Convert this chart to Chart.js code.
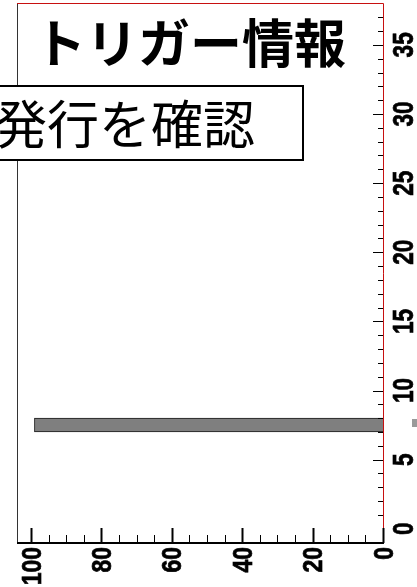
<!DOCTYPE html>
<html lang="ja">
<head>
<meta charset="UTF-8">
<script src="https://cdn.jsdelivr.net/npm/chart.js"></script>
<title>トリガー情報</title>
<style>
  html, body { margin: 0; padding: 0; background: #fff; }
  #wrap { width: 417px; height: 587px; position: relative; }
</style>
</head>
<body>
<div id="wrap"><canvas id="myChart"></canvas></div>
<script>
// histogram contents: one count per unit-wide bin, bins 0..36
const binCounts = [0, 0, 0, 0, 0, 0, 0, 99, 0, 0,
                   0, 0, 0, 0, 0, 0, 0, 0, 0, 0,
                   0, 0, 0, 0, 0, 0, 0, 0, 0, 0,
                   0, 0, 0, 0, 0, 0, 0];
const binTickLabels = [0, 5, 10, 15, 20, 25, 30, 35];
const countTickLabels = [0, 20, 40, 60, 80, 100];
const titleText = 'トリガー情報';
const noteText = '発行を確認';

const binMax = binCounts.length;
const countMax = Math.max(...binCounts) * 1.05;

var points = [];
for (let i = 0; i < binCounts.length; i++) {
    points.push({ x: binCounts[i], y: i + 0.5 });
}

// draws one label turned to read upwards; sx squeezes it along the text
function upText(ctx, text, x, y, align, sx, off) {
    ctx.save();
    ctx.translate(x, y);
    ctx.rotate(-Math.PI / 2);
    ctx.scale(sx, 1);
    ctx.textAlign = align;
    ctx.fillText(text, 0, off);
    ctx.strokeText(text, 0, off);
    ctx.restore();
}

// frame, inward ticks, rotated labels and the text boxes
const decor = {
    id: 'decor',
    afterDraw(chart) {
        const ctx = chart.ctx;
        const a = chart.chartArea;
        const xs = chart.scales.x;
        const ys = chart.scales.y;
        ctx.save();

        // frame
        ctx.lineWidth = 1;
        ctx.strokeStyle = '#333';
        ctx.beginPath();
        ctx.moveTo(a.left + 0.5, a.top);
        ctx.lineTo(a.left + 0.5, a.bottom);
        ctx.stroke();
        ctx.strokeStyle = '#c81010';
        ctx.beginPath();
        ctx.moveTo(a.left, a.top + 0.5);
        ctx.lineTo(a.right + 0.5, a.top + 0.5);
        ctx.lineTo(a.right + 0.5, a.bottom);
        ctx.stroke();
        ctx.strokeStyle = '#000';
        ctx.lineWidth = 2;
        ctx.beginPath();
        ctx.moveTo(a.left, a.bottom);
        ctx.lineTo(a.right + 1, a.bottom);
        ctx.stroke();

        // ticks on the bin axis (right side, pointing in)
        ctx.strokeStyle = '#000';
        for (let v = 1; v <= binMax; v++) {
            const y = Math.round(ys.getPixelForValue(v)) + 0.5;
            const len = v % 5 === 0 ? 10 : 5;
            ctx.lineWidth = 1;
            ctx.beginPath();
            ctx.moveTo(a.right, y);
            ctx.lineTo(a.right - len, y);
            ctx.stroke();
        }
        // ticks on the count axis (bottom, pointing up)
        for (let v = 0; v <= countMax; v += 5) {
            const x = Math.round(xs.getPixelForValue(v)) + 0.5;
            const major = v % 20 === 0;
            ctx.lineWidth = major ? 2 : 1;
            ctx.beginPath();
            ctx.moveTo(x, a.bottom);
            ctx.lineTo(x, a.bottom - (major ? 15 : 8));
            ctx.stroke();
        }

        // tick labels
        ctx.fillStyle = '#000';
        ctx.strokeStyle = '#000';
        ctx.lineWidth = 0.7;
        ctx.font = 'bold 30px "Liberation Sans", Arial, sans-serif';
        ctx.textBaseline = 'alphabetic';
        binTickLabels.forEach(function (v) {
            upText(ctx, String(v), a.right + 19, ys.getPixelForValue(v), 'center', 0.75, 10.7);
        });
        ctx.font = 'bold 27px "Liberation Sans", Arial, sans-serif';
        countTickLabels.forEach(function (v) {
            upText(ctx, String(v), xs.getPixelForValue(v), a.bottom + 4, 'right', 0.85, 9.7);
        });

        // small marker at the right border
        ctx.fillStyle = '#9a9a9a';
        ctx.fillRect(412, 419, 5, 8);

        // title
        ctx.fillStyle = '#000';
        ctx.font = 'bold 52px "Noto Sans CJK JP", sans-serif';
        ctx.textAlign = 'center';
        ctx.textBaseline = 'middle';
        ctx.fillText(titleText, 190, 43);

        // note box
        ctx.fillStyle = '#fff';
        ctx.fillRect(-10, 85, 313, 75);
        ctx.strokeStyle = '#000';
        ctx.lineWidth = 2;
        ctx.strokeRect(-10, 86, 313, 74);
        ctx.fillStyle = '#000';
        ctx.font = '52px "Noto Sans CJK JP", sans-serif';
        ctx.fillText(noteText, 125, 124);

        ctx.restore();
    }
};

const data = {
    datasets: [{
        label: 'trigger',
        data: points,
        backgroundColor: '#7f7f7f',
        borderColor: '#1a1a1a',
        borderWidth: 1,
        barPercentage: 1.0,
        categoryPercentage: 1.0
    }]
};

const config = {
    type: 'bar',
    data: data,
    options: {
        indexAxis: 'y',
        responsive: true,
        maintainAspectRatio: false,
        animation: false,
        layout: { padding: { left: 17, top: 3, right: 34, bottom: 44 } },
        plugins: { legend: { display: false }, tooltip: { enabled: false } },
        scales: {
            x: { type: 'linear', reverse: true, min: 0, max: countMax, display: false },
            y: { type: 'linear', min: 0, max: binMax, display: false, ticks: { stepSize: 1 } }
        }
    },
    plugins: [decor]
};

new Chart(document.getElementById('myChart'), config);
</script>
</body>
</html>
